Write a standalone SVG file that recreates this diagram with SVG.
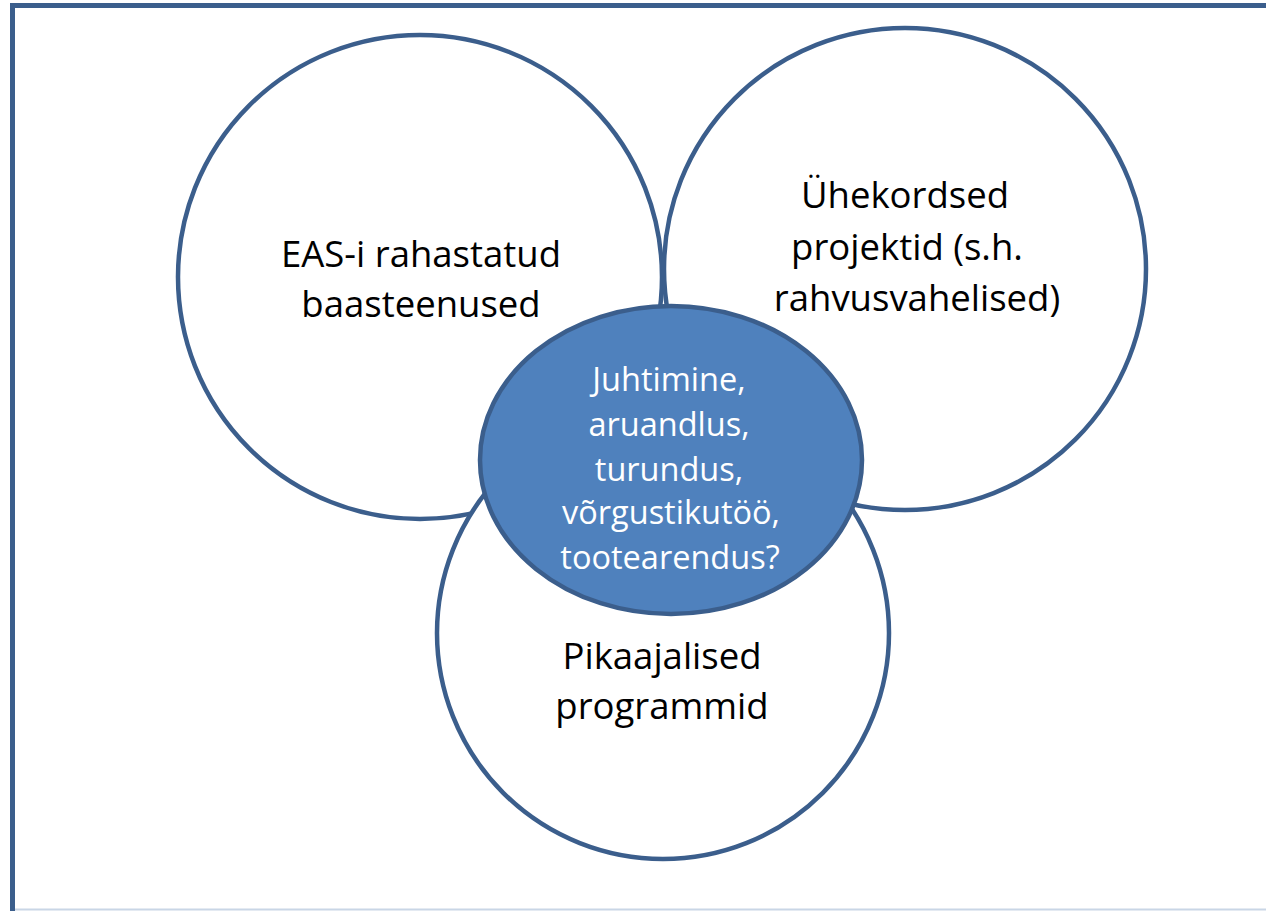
<svg xmlns="http://www.w3.org/2000/svg" width="1266" height="911" viewBox="0 0 1266 911">
<style>
.c{fill:#ffffff;stroke:#3b5e8c;stroke-width:4.5}
.t{font-family:"Open Sans","Liberation Sans",sans-serif;font-size:36.5px;fill:#000;text-anchor:middle}
.w{font-family:"Open Sans","Liberation Sans",sans-serif;font-size:32.5px;fill:#fff;text-anchor:middle}
</style>
<rect x="0" y="0" width="1266" height="911" fill="#fff"/>
<path d="M12.5 911 V5.5 H1266" fill="none" stroke="#3b5e8c" stroke-width="5"/>
<line x1="15" y1="909.5" x2="1266" y2="909.5" stroke="#c9d6e6" stroke-width="2"/>
<g id="node-eas">
<circle class="c" cx="420" cy="277" r="242"/>
<text class="t" x="421" y="267">EAS-i rahastatud</text>
<text class="t" x="421" y="317">baasteenused</text>
</g>
<g id="node-uhekordsed">
<circle class="c" cx="905" cy="269" r="241"/>
<text class="t" x="905" y="208">Ühekordsed</text>
<text class="t" x="907" y="260">projektid (s.h.</text>
<text class="t" x="917" y="311">rahvusvahelised)</text>
</g>
<g id="node-pikaajalised">
<circle class="c" cx="663" cy="633" r="226"/>
<text class="t" x="662" y="669">Pikaajalised</text>
<text class="t" x="662" y="719">programmid</text>
</g>
<g id="node-center">
<ellipse cx="671" cy="460" rx="191" ry="154" fill="#4f81bd" stroke="#3b5e8c" stroke-width="4.5"/>
<text class="w" x="669" y="391">Juhtimine,</text>
<text class="w" x="669" y="436">aruandlus,</text>
<text class="w" x="669" y="481">turundus,</text>
<text class="w" x="671" y="524">võrgustikutöö,</text>
<text class="w" x="670" y="569">tootearendus?</text>
</g>
<g id="connectors"></g>
</svg>
